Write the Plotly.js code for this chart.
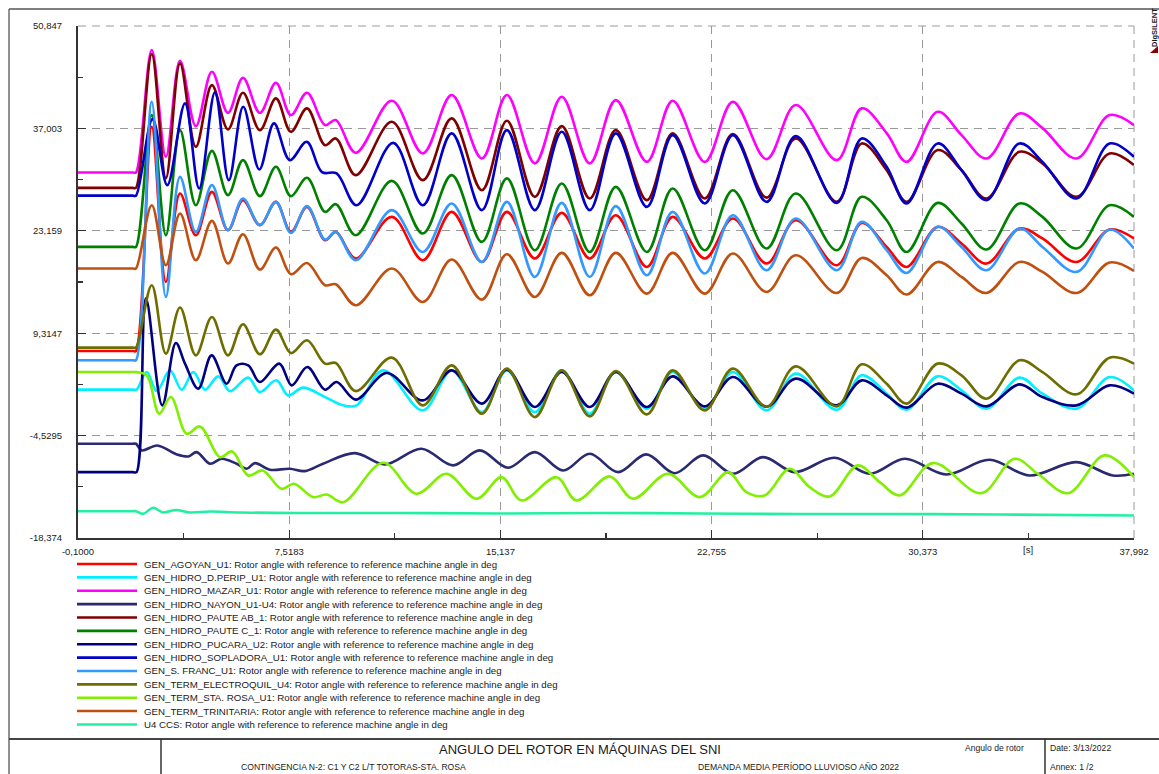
<!DOCTYPE html>
<html><head><meta charset="utf-8">
<script src="https://cdn.plot.ly/plotly-3.0.1.min.js"></script>
<style>html,body{margin:0;padding:0;background:#fff;}#chart{width:1159px;height:774px;}</style>
</head><body><div id="chart"></div>
<script>
// ---- time bases (s) ----
const tCommon = [-0.1,1.88,1.99,2.56,3.07,3.58,4.15,4.73,5.31,5.85,6.46,7.04,7.58,8.16,8.81,9.20,9.92,11.22,12.34,13.38,14.47,15.37,16.38,17.35,18.36,19.30,20.42,21.35,22.51,23.52,24.74,25.79,27.27,28.17,29.07,29.79,30.91,31.77,32.67,33.86,34.69,35.92,37.11,37.99];
const tLate = [12.34,13.38,14.47,15.37,16.38,17.35,18.36,19.30,20.42,21.35,22.51,23.52,24.74,25.79,27.27,28.17,29.07,29.79,30.91,31.77,32.67,33.86,34.69,35.92,37.11,37.99];
const tSopladoraEarly = [-0.1,1.88,1.99,2.59,3.12,3.76,4.27,4.84,5.34,5.86,6.44,6.97,7.54,8.15,8.70,9.23,9.95,11.27];
const tPeripEarly = [-0.1,1.88,2.01,2.38,2.74,3.22,3.64,4.06,4.48,4.96,5.38,6.04,6.46,7.06,7.48,8.02,8.81,9.47,9.95,10.91];
const tPucaraEarly = [-0.1,1.88,2.01,2.35,2.94,3.43,3.76,4.24,4.72,5.26,5.62,6.04,6.46,7.16,7.61,8.17,8.81,9.23,9.92,11.03];
const tStaRosa = [-0.1,1.88,1.99,2.38,2.83,3.25,3.82,4.30,5.02,5.46,6.04,6.56,7.24,7.69,8.38,8.87,9.47,10.91,12.11,13.19,14.28,15.18,15.90,17.16,17.88,19.08,19.92,21.18,22.33,23.35,24.01,24.67,25.57,26.29,27.01,28.03,28.82,29.54,30.74,32.48,33.68,34.52,35.61,36.93,37.99];
const tNayon = [-0.1,1.88,1.99,2.20,2.76,3.46,3.88,4.18,4.66,5.08,5.62,5.98,6.28,6.82,7.54,8.08,8.74,9.89,10.97,12.29,13.43,14.39,15.41,16.38,17.40,18.36,19.38,20.40,21.42,22.45,23.53,24.61,25.75,27.19,28.46,29.72,31.22,32.78,34.22,35.91,37.23,37.99];
const tCCS = [-0.1,1.88,1.99,2.25,2.61,2.96,3.43,3.94,4.66,5.74,7.90,11.51,15.12,18.72,22.33,25.93,29.54,33.14,37.99];

// ---- rotor angles (deg) ----
const agoyan = [6.91,6.91,6.91,37.22,16.24,28.21,22.56,28.42,23.24,27.30,23.92,27.07,23.01,26.39,21.89,23.01,19.41,25.04,19.18,25.72,18.95,25.72,19.41,25.58,19.41,25.27,18.27,25.04,19.41,24.82,18.73,24.59,18.50,24.23,20.98,18.27,23.69,21.44,18.73,23.47,22.12,18.95,23.33,22.12];
const mazar = [31.05,31.05,31.05,47.60,33.16,46.15,37.31,44.66,39.11,43.85,39.11,43.17,38.80,41.82,37.45,38.13,33.70,40.74,33.62,41.51,32.94,41.51,32.27,41.28,32.27,40.83,32.48,40.74,32.48,40.60,32.85,40.16,32.71,39.71,36.37,32.48,39.25,36.10,32.94,39.03,37.04,32.94,38.80,37.45];
const pauteAB = [28.96,28.96,28.96,47.06,30.28,45.80,34.51,42.86,36.87,41.82,36.77,41.06,36.54,39.71,34.74,35.65,30.68,37.90,30.01,38.36,28.65,38.03,27.75,37.31,27.53,36.77,27.30,36.33,27.53,36.23,27.64,35.65,27.07,34.97,31.36,27.07,34.07,31.36,27.53,33.84,32.27,27.75,33.62,32.04];
const pauteC = [20.98,20.98,20.98,38.80,22.56,36.77,26.62,33.97,27.98,32.71,27.84,31.81,27.84,30.32,25.72,26.76,22.56,29.91,22.79,30.68,21.66,30.24,20.53,29.56,20.30,29.10,20.30,28.88,20.53,28.65,20.76,28.21,20.53,27.75,24.59,20.30,26.93,24.15,20.63,26.85,25.04,20.76,26.62,25.04];
const sFranc = [5.65,5.65,5.65,40.60,14.21,30.45,23.01,29.33,23.24,27.53,23.92,27.07,22.87,26.49,21.98,23.01,19.18,25.95,20.30,26.85,18.95,27.07,16.92,26.93,16.92,26.49,17.15,25.72,17.38,25.27,17.83,24.82,17.83,24.36,20.53,17.46,23.69,20.98,17.83,23.47,20.98,17.60,23.33,20.76];
const trinitaria = [18.06,18.06,18.06,26.62,18.50,25.50,19.18,24.50,18.73,22.70,17.92,20.90,17.29,18.81,15.80,15.93,13.09,18.06,13.54,19.27,13.86,19.99,14.21,20.17,14.44,20.17,14.67,20.17,14.67,20.09,14.89,19.86,14.75,19.49,17.15,14.54,18.95,16.92,14.75,18.95,17.60,14.75,18.87,17.73];
const electroquil = [7.37,7.37,7.37,15.80,6.55,12.78,6.32,11.51,6.32,10.52,6.46,9.80,6.63,8.35,5.20,5.28,1.49,6.01,-0.44,4.97,-1.57,4.52,-2.03,4.29,-1.93,4.20,-1.66,4.29,-1.12,4.52,-0.62,4.83,-0.58,5.11,2.49,-0.21,5.20,3.62,0.46,5.65,4.06,1.05,6.01,5.20];
const sopladoraEarly = [27.91,27.91,27.91,38.26,29.33,40.39,28.88,41.87,30.01,39.93,31.45,37.68,32.71,35.19,31.09,30.91,26.62,35.05];
const sopladoraLate = [26.62,36.33,25.95,36.77,25.95,36.54,25.95,36.33,26.39,36.10,26.85,36.10,27.07,35.96,26.93,35.65,31.81,26.85,34.97,31.36,27.30,34.97,32.48,27.53,34.97,33.16];
const peripEarly = [1.68,1.68,1.68,4.06,1.49,4.29,1.68,4.06,1.68,3.48,1.49,3.31,1.36,2.94,0.91,1.95,0.68,-0.44,-0.44,4.29];
const peripLate = [-1.12,4.29,-1.35,4.29,-1.35,4.29,-1.57,4.06,-0.89,4.06,-0.89,4.06,-1.12,3.85,-1.03,3.62,1.14,-1.03,3.48,1.59,-0.89,3.31,1.14,-0.89,3.39,1.59];
const pucaraEarly = [-9.47,-9.47,-9.47,14.04,-0.44,7.99,5.20,1.82,6.32,2.49,4.97,4.97,2.71,5.20,2.26,4.74,1.68,2.71,0.33,3.93];
const pucaraLate = [0.23,4.29,-0.21,4.39,-0.67,4.06,-0.67,4.06,-0.67,3.48,-0.58,3.39,-0.62,3.17,-0.44,2.94,0.91,-0.75,2.49,1.14,-0.58,2.40,0.68,-0.44,2.26,1.14];
const staRosa = [4.06,4.06,4.06,3.62,-1.57,0.68,-4.27,-3.29,-7.44,-6.67,-9.92,-9.24,-11.72,-11.04,-12.85,-12.49,-13.53,-8.20,-12.39,-9.69,-13.07,-10.15,-13.30,-10.15,-13.30,-10.05,-13.07,-9.69,-12.85,-9.47,-12.18,-12.62,-9.01,-11.50,-12.76,-8.56,-10.82,-12.62,-8.25,-12.31,-7.66,-9.69,-12.31,-7.21,-10.15];
const nayon = [-5.63,-5.63,-5.63,-6.53,-5.86,-7.07,-7.35,-6.76,-8.33,-7.66,-8.33,-9.01,-8.25,-9.15,-9.01,-9.33,-8.33,-6.90,-8.43,-6.30,-8.56,-6.53,-8.87,-6.76,-9.24,-6.98,-9.47,-7.07,-9.61,-7.21,-9.69,-7.44,-9.47,-7.52,-9.69,-7.66,-9.78,-7.79,-9.92,-8.12,-9.92,-9.69];
const ccs = [-14.75,-14.75,-14.75,-15.10,-14.29,-14.92,-14.59,-14.92,-14.79,-14.92,-14.99,-14.99,-15.06,-14.99,-15.06,-15.13,-15.13,-15.19,-15.33];

// ---- ticks ----
const xTickVals = [-0.1,7.5183,15.137,22.755,30.373,37.992];
const xTickText = ['-0,1000','7,5183','15,137','22,755','30,373','37,992'];
const yTickVals = [-18.374,-4.5295,9.3147,23.159,37.003,50.847];
const yTickText = ['-18,374','-4,5295','9,3147','23,159','37,003','50,847'];

const suffix = ': Rotor angle with reference to reference machine angle in deg';
const series = [
  {name:'GEN_AGOYAN_U1', x:tCommon, y:agoyan, color:'#FF0000'},
  {name:'GEN_HIDRO_D.PERIP_U1', x:tPeripEarly.concat(tLate), y:peripEarly.concat(peripLate), color:'#00F0FF'},
  {name:'GEN_HIDRO_MAZAR_U1', x:tCommon, y:mazar, color:'#FF00FF'},
  {name:'GEN_HIDRO_NAYON_U1-U4', x:tNayon, y:nayon, color:'#2A2A72'},
  {name:'GEN_HIDRO_PAUTE AB_1', x:tCommon, y:pauteAB, color:'#800000'},
  {name:'GEN_HIDRO_PAUTE C_1', x:tCommon, y:pauteC, color:'#008000'},
  {name:'GEN_HIDRO_PUCARA_U2', x:tPucaraEarly.concat(tLate), y:pucaraEarly.concat(pucaraLate), color:'#000080'},
  {name:'GEN_HIDRO_SOPLADORA_U1', x:tSopladoraEarly.concat(tLate), y:sopladoraEarly.concat(sopladoraLate), color:'#0000C8'},
  {name:'GEN_S. FRANC_U1', x:tCommon, y:sFranc, color:'#3399FF'},
  {name:'GEN_TERM_ELECTROQUIL_U4', x:tCommon, y:electroquil, color:'#6E6E00'},
  {name:'GEN_TERM_STA. ROSA_U1', x:tStaRosa, y:staRosa, color:'#80F000'},
  {name:'GEN_TERM_TRINITARIA', x:tCommon, y:trinitaria, color:'#C05010'},
  {name:'U4 CCS', x:tCCS, y:ccs, color:'#20F0A0'}
];

const traces = series.map(s => ({
  type:'scatter', mode:'lines', x:s.x, y:s.y, name:s.name,
  line:{color:s.color, width:2.6, shape:'spline', smoothing:1},
  hoverinfo:'skip'
}));

const L = 78, B = 538;
const FONT = 'Liberation Sans, Arial, sans-serif';
function seg(x0,y0,x1,y1,w,c,dash){
  return {type:'line',xref:'paper',yref:'paper',xsizemode:'pixel',ysizemode:'pixel',xanchor:0,yanchor:0,
    x0:x0-L,x1:x1-L,y0:B-y0,y1:B-y1,line:{color:c,width:w,dash:dash||'solid'},layer:'above'};
}
function txt(s,x,y,size,xanchor,extra){
  return Object.assign({xref:'paper',yref:'paper',x:0,y:0,xshift:x-L,yshift:B-y,xanchor:xanchor||'left',yanchor:'middle',
    showarrow:false,text:s,font:{family:FONT,size:size,color:'#1a1a1a'},borderpad:0},extra||{});
}

const shapes = [];
const annotations = [];
// edge grid lines (top and right)
shapes.push({type:'line',xref:'paper',yref:'paper',x0:0,x1:1,y0:1,y1:1,line:{color:'#9a9a9a',width:1,dash:'8px,6px'},layer:'below'});
shapes.push({type:'line',xref:'paper',yref:'paper',x0:1,x1:1,y0:0,y1:1,line:{color:'#9a9a9a',width:1,dash:'8px,6px'},layer:'below'});
// legend
series.forEach((s,i) => {
  const yy = 564 + 13.37*i;
  shapes.push(seg(77,yy,137,yy,2.6,s.color));
  annotations.push(txt(s.name + suffix, 143, yy, 9.7, 'left'));
});
// frame
shapes.push(seg(9,9,1159,9,1.3,'#555'));
shapes.push(seg(9,9,9,774,1.3,'#555'));
shapes.push(seg(9,739,1159,739,2,'#444'));
shapes.push(seg(161,739,161,774,1.5,'#333'));
shapes.push(seg(1045,739,1045,774,1.5,'#333'));
// DIgSILENT mark
shapes.push({type:'path',xref:'paper',yref:'paper',xsizemode:'pixel',ysizemode:'pixel',xanchor:0,yanchor:0,
  path:'M '+(1150-L)+' '+(B-53)+' L '+(1158-L)+' '+(B-46)+' L '+(1158-L)+' '+(B-53)+' Z',
  fillcolor:'#8B0000',line:{width:0},layer:'above'});
annotations.push(txt('<b>DIgSILENT</b>', 1154, 28, 7.5, 'center', {textangle:-90}));
// x axis unit
annotations.push({xref:'x',yref:'paper',x:34.1825,y:0,yshift:-11,xanchor:'center',yanchor:'middle',showarrow:false,
  text:'[s]',font:{family:FONT,size:9.5,color:'#1a1a1a'}});
// title block
annotations.push(txt('ANGULO DEL ROTOR EN MÁQUINAS DEL SNI', 580, 749, 13, 'center'));
annotations.push(txt('CONTINGENCIA N-2: C1 Y C2 L/T TOTORAS-STA. ROSA', 240, 767, 8.6, 'left'));
annotations.push(txt('DEMANDA MEDIA PERÍODO LLUVIOSO AÑO 2022', 697, 767, 8.6, 'left'));
annotations.push(txt('Angulo de rotor', 964, 748, 8.6, 'left'));
annotations.push(txt('Date: 3/13/2022', 1049, 748, 8.6, 'left'));
annotations.push(txt('Annex: 1 /2', 1049, 767, 8.6, 'left'));

const layout = {
  width:1159, height:774,
  margin:{l:78, r:25, t:26, b:236, pad:0},
  paper_bgcolor:'#fff', plot_bgcolor:'#fff',
  showlegend:false,
  font:{family:FONT, size:9.5, color:'#1a1a1a'},
  xaxis:{range:[-0.1,37.992], tickmode:'array', tickvals:xTickVals, ticktext:xTickText,
    ticks:'inside', ticklen:8, tickwidth:1.3, tickcolor:'#333',
    showline:true, linecolor:'#333', linewidth:2, zeroline:false,
    showgrid:true, gridcolor:'#9a9a9a', gridwidth:1, griddash:'8px,6px',
    ticklabelstandoff:4, tickfont:{family:FONT,size:9.5,color:'#1a1a1a'},
    minor:{tickmode:'linear', tick0:-0.1, dtick:3.8092, ticks:'inside', ticklen:5, tickwidth:1.3, tickcolor:'#333', showgrid:false}},
  yaxis:{range:[-18.374,50.847], tickmode:'array', tickvals:yTickVals, ticktext:yTickText,
    ticks:'inside', ticklen:8, tickwidth:1.3, tickcolor:'#333',
    showline:true, linecolor:'#333', linewidth:2, zeroline:false,
    showgrid:true, gridcolor:'#9a9a9a', gridwidth:1, griddash:'8px,6px',
    ticklabelstandoff:12, tickfont:{family:FONT,size:9.5,color:'#1a1a1a'},
    minor:{tickmode:'linear', tick0:-18.374, dtick:6.92205, ticks:'inside', ticklen:5, tickwidth:1.3, tickcolor:'#333', showgrid:false}},
  shapes:shapes,
  annotations:annotations
};

Plotly.newPlot('chart', traces, layout, {displayModeBar:false, staticPlot:true});
</script>
</body></html>
